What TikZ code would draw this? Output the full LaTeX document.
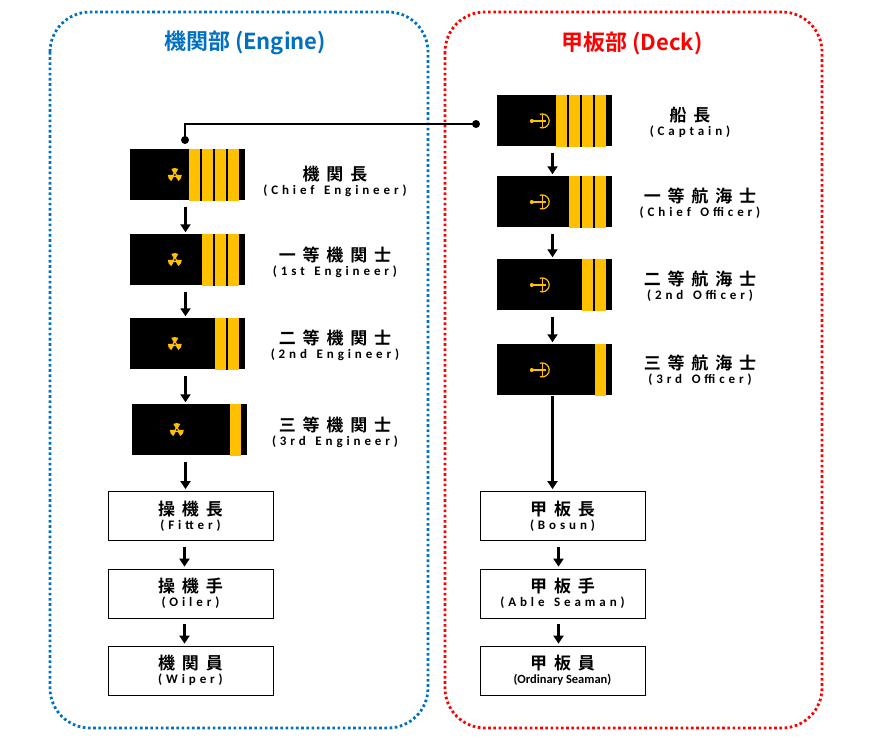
\documentclass[tikz,border=0pt]{standalone}
\usepackage{fontspec}
\usetikzlibrary{arrows.meta}
\newfontfamily\cjkf[LetterSpace=40]{Noto Sans CJK JP Bold}
\newfontfamily\cjkt{Noto Sans CJK JP Bold}
\newfontfamily\enf[LetterSpace=30,WordSpace=1.4]{Carlito}
\newfontfamily\ent{Carlito}
\definecolor{gold}{HTML}{FFC000}
\definecolor{eblue}{HTML}{0070C0}
\definecolor{dred}{HTML}{FF0000}
\newcommand\lbl[2]{{\cjkf\fontsize{17}{19}\selectfont #1}\\[2pt]{\enf\bfseries\fontsize{13}{14}\selectfont #2}}
\newcommand\epstripes[2]{% node, n
  \pgfmathsetmacro\sw{#2*11+(#2-1)*2}
  \fill[gold] ([xshift=-6pt-\sw pt]#1.north east) rectangle ([xshift=-6pt]#1.south east);
  \foreach \k in {1,...,#2}{\ifnum\k<#2
    \fill[black] ([xshift=-6pt-\k*13pt+2pt]#1.north east) rectangle ([xshift=-6pt-\k*13pt]#1.south east);\fi}
}
\newcommand\prop[1]{\begin{scope}[shift={(#1)}]
  \fill[gold] (0,0) circle (2.2pt);
  \foreach \a in {90,210,330}{\fill[gold] (0,0) -- (\a-30:7pt) arc (\a-30:\a+30:7pt) -- cycle;}
  \fill[black] (0,0) circle (1pt);\end{scope}}
\newcommand\anch[1]{\begin{scope}[shift={(#1)},gold,line width=1.2pt]
  \draw (-8pt,0) -- (6pt,0);\fill (-8pt,0) circle (2pt);
  \draw (3pt,-7pt) -- (3pt,7pt);\draw (0pt,-6.5pt) arc (-110:110:7pt);\end{scope}}
\begin{document}
\begin{tikzpicture}[x=1pt,y=-1pt,
  ep/.style={fill=black,minimum width=115pt,minimum height=51pt,inner sep=0pt,draw=none},
  bx/.style={draw,line width=0.8pt,minimum width=165pt,minimum height=49pt,align=center,inner sep=0pt},
  lb/.style={align=center},
  ar/.style={-{Triangle[length=8pt,width=10pt]},line width=2.4pt},
  grp/.style={dash pattern=on 2.6pt off 2.6pt,line width=2.8pt,rounded corners=40pt}]
\useasboundingbox (0,0) rectangle (887,743);
\draw[grp,eblue] (50,12) rectangle (428,728);
\draw[grp,dred] (445,12) rectangle (822,728);
\node[text=eblue,font=\cjkt\fontsize{22}{24}\selectfont] (te) at (245,43) {機関部 (Engine)};
\node[text=dred,font=\cjkt\fontsize{22}{24}\selectfont] (td) at (632,43) {甲板部 (Deck)};
% engine
\node[ep] (e1) at (187.5,175) {}; \epstripes{e1}{4}
\node[ep] (e2) at (187.5,260) {}; \epstripes{e2}{3}
\node[ep] (e3) at (187.5,344) {}; \epstripes{e3}{2}
\node[ep] (e4) at (189.5,430) {}; \epstripes{e4}{1}
\foreach \e in {e1,e2,e3,e4}{\prop{[xshift=45pt]\e.west}}
\node[lb] (l1) at (335,181) {\lbl{機関長}{(Chief Engineer)}};
\node[lb] (l2) at (335,262) {\lbl{一等機関士}{(1st Engineer)}};
\node[lb] (l3) at (335,345) {\lbl{二等機関士}{(2nd Engineer)}};
\node[lb] (l4) at (335,432) {\lbl{三等機関士}{(3rd Engineer)}};
\node[bx] (f1) at (190.5,516) {\lbl{操機長}{(Fitter)}};
\node[bx] (f2) at (190.5,593.5) {\lbl{操機手}{(Oiler)}};
\node[bx] (f3) at (190.5,670.5) {\lbl{機関員}{(Wiper)}};
\draw[ar] ([xshift=-2pt,yshift=-6pt]e1.south) -- ([xshift=-2pt,yshift=2pt]e2.north);
\draw[ar] ([xshift=-2pt,yshift=-6pt]e2.south) -- ([xshift=-2pt,yshift=2pt]e3.north);
\draw[ar] ([xshift=-2pt,yshift=-6pt]e3.south) -- ([xshift=-4pt,yshift=2pt]e4.north);
\coordinate (e4s) at ([xshift=-4pt,yshift=-6pt]e4.south);
\draw[ar] (e4s) -- ([yshift=2pt]e4s |- f1.north);
\draw[ar] ([xshift=-6pt,yshift=-6pt]f1.south) -- ([xshift=-6pt,yshift=2pt]f2.north);
\draw[ar] ([xshift=-6pt,yshift=-6pt]f2.south) -- ([xshift=-6pt,yshift=2pt]f3.north);
% deck
\node[ep] (d1) at (554.5,121) {}; \epstripes{d1}{4}
\node[ep] (d2) at (554.5,202) {}; \epstripes{d2}{3}
\node[ep] (d3) at (554.5,285) {}; \epstripes{d3}{2}
\node[ep] (d4) at (554.5,370) {}; \epstripes{d4}{1}
\foreach \e in {d1,d2,d3,d4}{\anch{[xshift=43pt]\e.west}}
\node[lb] (m1) at (690,122) {\lbl{船長}{(Captain)}};
\node[lb] (m2) at (700,203) {\lbl{一等航海士}{(Chief Officer)}};
\node[lb] (m3) at (700,286) {\lbl{二等航海士}{(2nd Officer)}};
\node[lb] (m4) at (700,370) {\lbl{三等航海士}{(3rd Officer)}};
\node[bx] (b1) at (562.5,516) {\lbl{甲板長}{(Bosun)}};
\node[bx] (b2) at (562.5,593.5) {\lbl{甲板手}{(Able Seaman)}};
\node[bx] (b3) at (562.5,670.5) {{\cjkf\fontsize{17}{19}\selectfont 甲板員}\\[2pt]{\ent\bfseries\fontsize{12.5}{14}\selectfont (Ordinary Seaman)}};
\draw[ar] ([xshift=-2pt,yshift=-6pt]d1.south) -- ([xshift=-2pt,yshift=2pt]d2.north);
\draw[ar] ([xshift=-2pt,yshift=-6pt]d2.south) -- ([xshift=-2pt,yshift=2pt]d3.north);
\draw[ar] ([xshift=-2pt,yshift=-6pt]d3.south) -- ([xshift=-2pt,yshift=2pt]d4.north);
\coordinate (d4s) at ([xshift=-2pt]d4.south);
\draw[ar] (d4s) -- ([yshift=2pt]d4s |- b1.north);
\draw[ar] ([xshift=-4pt,yshift=-6pt]b1.south) -- ([xshift=-4pt,yshift=2pt]b2.north);
\draw[ar] ([xshift=-4pt,yshift=-6pt]b2.south) -- ([xshift=-4pt,yshift=2pt]b3.north);
% connector
\coordinate (ca) at (476,124);
\coordinate (cb) at (185,140);
\draw[line width=1.8pt] (ca) -| (cb);
\fill (ca) circle (4pt); \fill (cb) circle (4pt);
\end{tikzpicture}
\end{document}
